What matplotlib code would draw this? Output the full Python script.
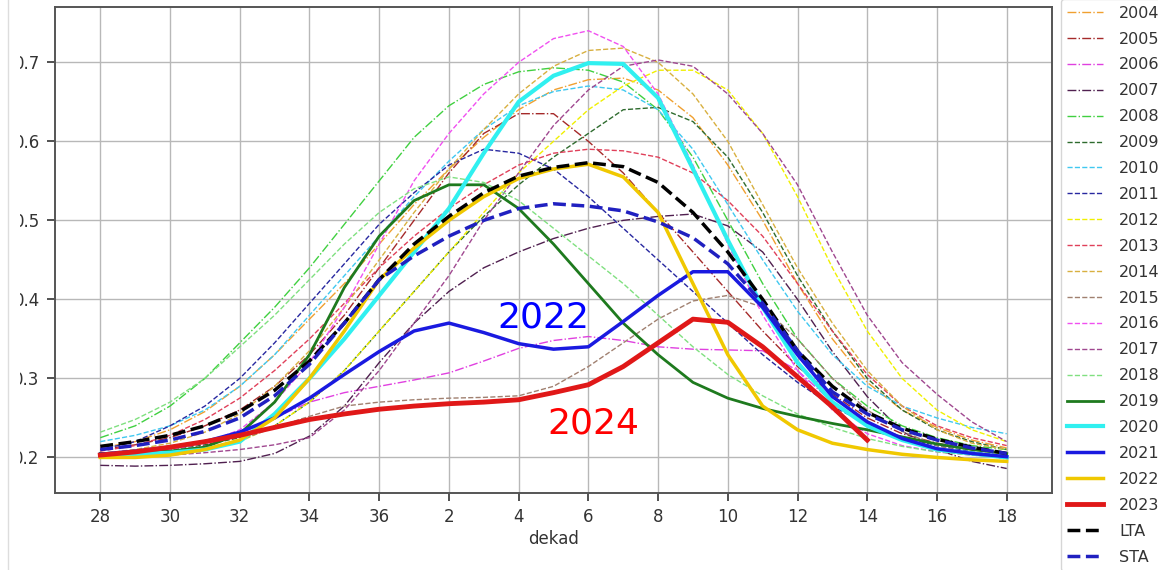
import matplotlib
matplotlib.use("Agg")
import matplotlib.pyplot as plt
import numpy as np

dekads = [28, 29, 30, 31, 32, 33, 34, 35, 36] + list(range(1, 19))

years = [str(y) for y in range(2004, 2024)]

y2004 = [0.212, 0.22, 0.235, 0.258, 0.29, 0.33, 0.375, 0.42, 0.47, 0.52, 0.565, 0.605, 0.64, 0.665, 0.678, 0.68, 0.665, 0.63, 0.57, 0.5, 0.42, 0.35, 0.295, 0.26, 0.238, 0.222, 0.212]
y2005 = [0.21, 0.216, 0.225, 0.24, 0.26, 0.29, 0.33, 0.38, 0.44, 0.5, 0.56, 0.61, 0.635, 0.635, 0.6, 0.56, 0.51, 0.46, 0.41, 0.36, 0.315, 0.28, 0.25, 0.23, 0.218, 0.21, 0.205]
y2006 = [0.2, 0.202, 0.206, 0.215, 0.23, 0.25, 0.27, 0.282, 0.29, 0.298, 0.307, 0.322, 0.338, 0.348, 0.353, 0.348, 0.34, 0.337, 0.336, 0.335, 0.31, 0.27, 0.24, 0.222, 0.21, 0.204, 0.2]
y2007 = [0.19, 0.189, 0.19, 0.192, 0.195, 0.205, 0.227, 0.265, 0.32, 0.37, 0.41, 0.44, 0.46, 0.477, 0.49, 0.5, 0.505, 0.508, 0.493, 0.46, 0.4, 0.334, 0.277, 0.233, 0.21, 0.195, 0.186]
y2008 = [0.225, 0.24, 0.265, 0.3, 0.345, 0.39, 0.44, 0.495, 0.55, 0.605, 0.645, 0.672, 0.688, 0.693, 0.69, 0.675, 0.64, 0.58, 0.5, 0.42, 0.35, 0.3, 0.265, 0.24, 0.225, 0.215, 0.21]
y2009 = [0.205, 0.207, 0.21, 0.216, 0.225, 0.24, 0.27, 0.31, 0.36, 0.41, 0.46, 0.505, 0.545, 0.58, 0.61, 0.64, 0.643, 0.625, 0.58, 0.51, 0.43, 0.36, 0.3, 0.26, 0.235, 0.22, 0.21]
y2010 = [0.22, 0.228, 0.24, 0.26, 0.29, 0.33, 0.38, 0.43, 0.48, 0.53, 0.575, 0.615, 0.645, 0.663, 0.67, 0.665, 0.64, 0.59, 0.52, 0.45, 0.385, 0.33, 0.29, 0.265, 0.25, 0.238, 0.23]
y2011 = [0.21, 0.22, 0.24, 0.265, 0.3, 0.345, 0.395, 0.445, 0.495, 0.535, 0.57, 0.59, 0.585, 0.565, 0.53, 0.49, 0.45, 0.41, 0.37, 0.33, 0.295, 0.265, 0.242, 0.226, 0.215, 0.207, 0.202]
y2012 = [0.2, 0.202, 0.205, 0.211, 0.22, 0.24, 0.27, 0.31, 0.36, 0.41, 0.46, 0.51, 0.56, 0.6, 0.64, 0.67, 0.69, 0.69, 0.665, 0.61, 0.53, 0.44, 0.36, 0.3, 0.26, 0.235, 0.22]
y2013 = [0.208, 0.215, 0.228, 0.248, 0.275, 0.31, 0.35, 0.395, 0.44, 0.48, 0.515, 0.545, 0.57, 0.585, 0.59, 0.588, 0.58, 0.56, 0.525, 0.48, 0.42, 0.36, 0.305, 0.265, 0.24, 0.225, 0.215]
y2014 = [0.205, 0.21, 0.218, 0.232, 0.255, 0.29, 0.335, 0.39, 0.45, 0.51, 0.565, 0.615, 0.66, 0.695, 0.715, 0.718, 0.7, 0.66, 0.6, 0.52, 0.44, 0.37, 0.31, 0.265, 0.235, 0.218, 0.21]
y2015 = [0.2, 0.2, 0.203, 0.21, 0.222, 0.238, 0.252, 0.265, 0.27, 0.273, 0.275, 0.276, 0.278, 0.29, 0.315, 0.345, 0.375, 0.398, 0.405, 0.39, 0.35, 0.3, 0.26, 0.233, 0.215, 0.205, 0.198]
y2016 = [0.205, 0.207, 0.21, 0.218, 0.235, 0.27, 0.32, 0.39, 0.47, 0.55, 0.61, 0.66, 0.7, 0.73, 0.74, 0.72, 0.66, 0.57, 0.47, 0.38, 0.31, 0.26, 0.23, 0.215, 0.207, 0.203, 0.2]
y2017 = [0.2, 0.201, 0.203, 0.206, 0.21, 0.216, 0.225, 0.26, 0.31, 0.37, 0.43, 0.5, 0.56, 0.62, 0.665, 0.695, 0.703, 0.695, 0.66, 0.61, 0.545, 0.46, 0.38, 0.32, 0.28, 0.245, 0.22]
y2018 = [0.232, 0.248, 0.27, 0.3, 0.34, 0.38, 0.425, 0.47, 0.51, 0.54, 0.555, 0.548, 0.525, 0.49, 0.455, 0.42, 0.38, 0.34, 0.305, 0.278, 0.255, 0.238, 0.224, 0.214, 0.207, 0.203, 0.2]
y2019 = [0.205, 0.206, 0.208, 0.213, 0.23, 0.27, 0.33, 0.415, 0.48, 0.525, 0.545, 0.545, 0.515, 0.47, 0.42, 0.37, 0.33, 0.295, 0.275, 0.262, 0.252, 0.243, 0.235, 0.226, 0.217, 0.21, 0.205]
y2020 = [0.203, 0.204, 0.206, 0.21, 0.22, 0.255, 0.3, 0.35, 0.405, 0.46, 0.515, 0.585, 0.65, 0.683, 0.699, 0.698, 0.655, 0.565, 0.475, 0.39, 0.32, 0.27, 0.24, 0.222, 0.21, 0.205, 0.2]
y2021 = [0.204, 0.208, 0.213, 0.22, 0.232, 0.25, 0.275, 0.305, 0.334, 0.36, 0.37, 0.358, 0.344, 0.337, 0.34, 0.372, 0.405, 0.435, 0.435, 0.39, 0.33, 0.277, 0.245, 0.224, 0.211, 0.205, 0.201]
y2022 = [0.2, 0.2, 0.203, 0.21, 0.222, 0.25, 0.3, 0.36, 0.425, 0.465, 0.5, 0.53, 0.553, 0.565, 0.571, 0.555, 0.51, 0.42, 0.33, 0.265, 0.235, 0.218, 0.21, 0.204, 0.2, 0.197, 0.195]
y2023 = [0.203, 0.207, 0.213, 0.22, 0.228, 0.238, 0.248, 0.255, 0.261, 0.265, 0.268, 0.27, 0.273, 0.282, 0.292, 0.315, 0.345, 0.375, 0.371, 0.34, 0.302, 0.264, 0.222]
lta = [0.214, 0.22, 0.228, 0.24, 0.258, 0.285, 0.322, 0.37, 0.425, 0.47, 0.505, 0.535, 0.556, 0.567, 0.573, 0.568, 0.548, 0.51, 0.46, 0.4, 0.335, 0.29, 0.257, 0.237, 0.223, 0.213, 0.205]
sta = [0.21, 0.215, 0.222, 0.233, 0.25, 0.278, 0.318, 0.37, 0.425, 0.455, 0.48, 0.5, 0.515, 0.521, 0.518, 0.512, 0.498, 0.478, 0.445, 0.395, 0.335, 0.283, 0.255, 0.235, 0.222, 0.212, 0.205]

series = [y2004, y2005, y2006, y2007, y2008, y2009, y2010, y2011, y2012, y2013,
          y2014, y2015, y2016, y2017, y2018, y2019, y2020, y2021, y2022, y2023]
colors = ['#f0a030', '#a52a2a', '#e040e0', '#502050', '#40d040',
          '#2e6b2e', '#40c8f0', '#2828a0', '#f0f000', '#e0405a',
          '#d8b040', '#a08070', '#f050f0', '#a04890', '#80e080',
          '#1e7a1e', '#30f0f0', '#1a1ae0', '#f0c800', '#e01818']
styles = ['-.'] * 5 + ['--'] * 10 + ['-'] * 5
widths = [1.0] * 15 + [2.0, 3.0, 2.5, 2.5, 3.5]

W, H = 1158, 570
fig = plt.figure(figsize=(W / 100, H / 100), dpi=100)
ax = fig.add_axes([55 / W, 1 - 493 / H, (1052 - 55) / W, (493 - 7) / H])

x_all = np.arange(len(dekads))
for i, (yr, vals) in enumerate(zip(years, series)):
    ax.plot(x_all[:len(vals)], vals, linestyle=styles[i], color=colors[i],
            linewidth=widths[i], label=yr, zorder=2 + (1 if i >= 15 else 0))
ax.plot(x_all, lta, linestyle='--', color='black', linewidth=2.5, label='LTA', zorder=4)
ax.plot(x_all, sta, linestyle='--', color='#2020c0', linewidth=2.5, label='STA', zorder=4)

ax.text(12.7, 0.377, '2022', color='#0000ff', fontsize=26, ha='center', va='center', zorder=6)
ax.text(14.15, 0.243, '2024', color='#ff0000', fontsize=26, ha='center', va='center', zorder=6)

ax.set_xticks(x_all[::2])
ax.set_xticklabels([str(d) for d in dekads[::2]])
ax.set_yticks([0.2, 0.3, 0.4, 0.5, 0.6, 0.7])
ax.set_yticklabels(['0.2', '0.3', '0.4', '0.5', '0.6', '0.7'])
ax.set_xlim(-1.3, 27.3)
ax.set_ylim(0.155, 0.77)
ax.grid(True, color='#b8b8b8', linewidth=1.0)
ax.tick_params(labelsize=12, colors='#333333', length=6, width=1.2, pad=5)
for s in ax.spines.values():
    s.set_color('#555555')
    s.set_linewidth(1.4)
ax.set_xlabel('dekad', fontsize=12, color='#333333', labelpad=3)

FS = 11.5
target_step = 25.9        # px between legend rows
target_last_y = H - 557   # display y (from bottom) of the last row centre


def make_legend(ls, ybot):
    lg = ax.legend(loc='lower left', bbox_to_anchor=(1061 / W, ybot),
                   bbox_transform=fig.transFigure, borderaxespad=0, fontsize=FS,
                   labelspacing=ls, handlelength=2.2, handletextpad=1.05,
                   frameon=True, fancybox=True)
    for t in lg.get_texts():
        t.set_color('#333333')
    return lg


ls, ybot = 0.5, 0.0
for _ in range(4):
    leg = make_legend(ls, ybot)
    fig.canvas.draw()
    r = fig.canvas.get_renderer()
    cy = [0.5 * (b.y0 + b.y1) for b in (t.get_window_extent(r) for t in leg.get_texts())]
    step = (cy[0] - cy[-1]) / (len(cy) - 1)
    ls += (target_step - step) / (FS * 100 / 72)
    ybot += (target_last_y - cy[-1]) / H
    leg.remove()
leg = make_legend(ls, ybot)

# screenshot border at left
fig.patches.append(plt.Rectangle((0, 0), 20 / W, 1, transform=fig.transFigure,
                                 facecolor='white', edgecolor='none', zorder=10))
fig.lines.append(plt.Line2D([8 / W, 8 / W], [0, 1], transform=fig.transFigure,
                            color='#dddddd', linewidth=1, zorder=11))

fig.savefig('out.png', dpi=100)
